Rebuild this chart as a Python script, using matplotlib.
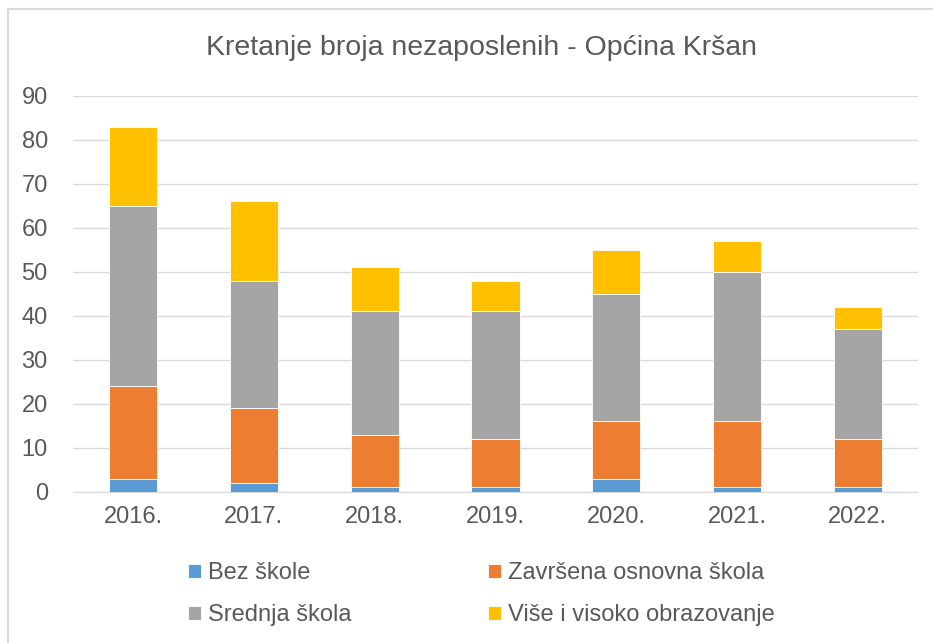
import matplotlib.pyplot as plt
from matplotlib.lines import Line2D
import numpy as np

plt.rcParams['font.family'] = ['Liberation Sans', 'DejaVu Sans']

years = ['2016.', '2017.', '2018.', '2019.', '2020.', '2021.', '2022.']
bez_skole = [3, 2, 1, 1, 3, 1, 1]
osnovna = [21, 17, 12, 11, 13, 15, 11]
srednja = [41, 29, 28, 29, 29, 34, 25]
visoko = [18, 18, 10, 7, 10, 7, 5]

labels = ['Bez škole', 'Završena osnovna škola', 'Srednja škola', 'Više i visoko obrazovanje']
colors = ['#5b9bd5', '#ed7d31', '#a5a5a5', '#ffc000']
text_col = '#595959'

fig = plt.figure(figsize=(9.33, 6.43), dpi=100)
ax = fig.add_axes([0.078, 0.235, 0.906, 0.616])

x = np.arange(len(years))
bottom = np.zeros(len(years))
handles = []
for vals, lab, col in zip([bez_skole, osnovna, srednja, visoko], labels, colors):
    h = ax.bar(x, vals, 0.4, bottom=bottom, color=col, label=lab,
               edgecolor='white', linewidth=0.6, zorder=3)
    handles.append(h)
    bottom += np.array(vals)

ax.set_ylim(0, 90)
ax.set_yticks(range(0, 91, 10))
ax.set_xlim(-0.5, len(years) - 0.5)
ax.set_xticks(x)
ax.set_xticklabels(years)
ax.grid(axis='y', color='#d9d9d9', linewidth=1, zorder=0)
for s in ['top', 'right', 'left']:
    ax.spines[s].set_visible(False)
ax.spines['bottom'].set_color('#d9d9d9')
ax.tick_params(axis='both', length=0, labelsize=17, colors=text_col)
ax.tick_params(axis='y', pad=18)
ax.tick_params(axis='x', pad=10)

fig.text(0.516, 0.925, 'Kretanje broja nezaposlenih - Općina Kršan', ha='center', va='center',
         fontsize=20.5, color=text_col)

# row-major legend order: matplotlib fills columns first
order = [0, 2, 1, 3]
fig.legend(handles=[handles[i] for i in order], labels=[labels[i] for i in order],
           loc='center', ncol=2, bbox_to_anchor=(0.516, 0.076),
           frameon=False, fontsize=17, labelcolor=text_col, handlelength=0.55, handleheight=0.55,
           handletextpad=0.3, columnspacing=5.8, labelspacing=0.85, borderpad=0)

# chart border (only left and top visible in the reference crop)
fig.add_artist(Line2D([8 / 933, 8 / 933], [0, 1 - 9 / 643], transform=fig.transFigure,
                      color='#d9d9d9', linewidth=1.5))
fig.add_artist(Line2D([8 / 933, 1], [1 - 9 / 643, 1 - 9 / 643], transform=fig.transFigure,
                      color='#d9d9d9', linewidth=1.5))

fig.savefig('out.png', dpi=100)
